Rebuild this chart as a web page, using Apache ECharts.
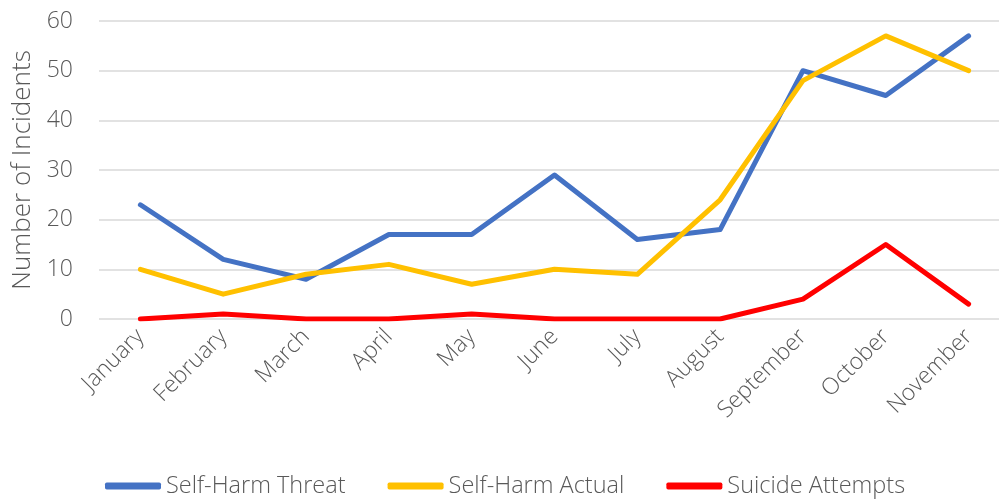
<!DOCTYPE html>
<html>
<head>
<meta charset="utf-8">
<script src="https://cdn.jsdelivr.net/npm/echarts@6/dist/echarts.min.js"></script>
<style>
  html, body { margin: 0; padding: 0; background: #fff; overflow: hidden; }
  #chart { width: 1010px; height: 500px; }
</style>
</head>
<body>
<div id="chart"></div>
<script>
var months = ["January", "February", "March", "April", "May", "June", "July", "August", "September", "October", "November"];
var threat = [23, 12, 8, 17, 17, 29, 16, 18, 50, 45, 57];
var actual = [10, 5, 9, 11, 7, 10, 9, 24, 48, 57, 50];
var attempts = [0, 1, 0, 0, 1, 0, 0, 0, 4, 15, 3];

var textColor = "#595959";
var font = "'Open Sans', sans-serif";

function line(name, data, color) {
  return {
    name: name,
    type: "line",
    data: data,
    symbol: "none",
    color: color,
    lineStyle: { color: color, width: 5, cap: "round", join: "round" }
  };
}

var myChart = echarts.init(document.getElementById("chart"));
myChart.setOption({
  animation: false,
  textStyle: { fontFamily: font, color: textColor },
  grid: { left: 99, top: 21, right: 0, height: 298, containLabel: false },
  legend: {
    top: 469,
    left: 100,
    itemWidth: 56,
    itemHeight: 7,
    itemGap: 42,
    icon: "roundRect",
    textStyle: { fontFamily: font, fontSize: 23.5, color: textColor, fontWeight: 300 },
    data: ["Self-Harm Threat", "Self-Harm Actual", "Suicide Attempts"]
  },
  xAxis: {
    type: "category",
    data: months,
    axisLine: { show: false },
    axisTick: { show: false },
    axisLabel: {
      rotate: 45,
      interval: 0,
      margin: 14,
      fontSize: 23,
      fontWeight: 300,
      color: textColor,
      fontFamily: font
    }
  },
  yAxis: {
    type: "value",
    min: 0,
    max: 60,
    interval: 10,
    name: "Number of Incidents",
    nameLocation: "middle",
    nameGap: 63,
    nameTextStyle: { fontSize: 26, fontWeight: 300, color: textColor, fontFamily: font },
    axisLine: { show: false },
    axisTick: { show: false },
    axisLabel: { fontSize: 23, fontWeight: 300, color: textColor, margin: 26, fontFamily: font },
    splitLine: { lineStyle: { color: "#d9d9d9", width: 1.5 } }
  },
  series: [
    line("Self-Harm Threat", threat, "#4472C4"),
    line("Self-Harm Actual", actual, "#FFC000"),
    line("Suicide Attempts", attempts, "#FF0000")
  ]
});
</script>
</body>
</html>
